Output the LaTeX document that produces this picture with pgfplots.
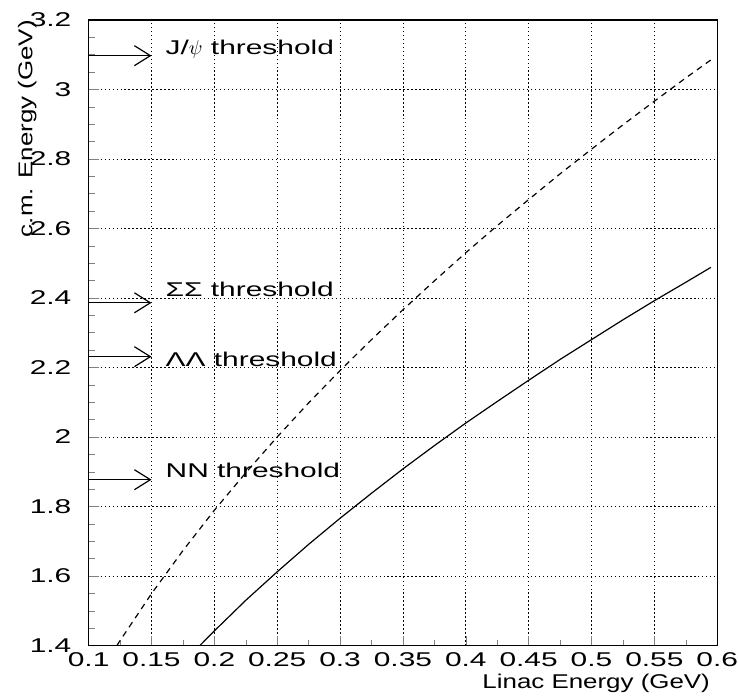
\documentclass[border=0pt]{standalone}
\usepackage{fontspec}
\setmainfont{Liberation Sans}[FakeStretch=1.3]
\newfontfamily\wide{Liberation Sans}[FakeStretch=1.5]
\usepackage{pgfplots}
\pgfplotsset{compat=1.18}
\usetikzlibrary{arrows.meta}

\begin{document}
\fontsize{10}{12}\selectfont
\begin{tikzpicture}
  \begin{axis}[
      scale only axis, clip=false,
      width=315.5pt, height=314pt,
      xmin=0.1, xmax=0.6, ymin=1.4, ymax=3.2,
      xtick={0.1,0.15,0.2,0.25,0.3,0.35,0.4,0.45,0.5,0.55,0.6},
      ytick={1.4,1.6,1.8,2,2.2,2.4,2.6,2.8,3,3.2},
      minor x tick num=1, minor y tick num=3,
      tick pos=left, tick align=inside,
      major tick length=5pt, minor tick length=3pt,
      grid=major, grid style={black, line width=0.4pt, dash pattern=on 0.6pt off 1.4pt},
      axis line style={black, line width=0.7pt},
      /pgf/number format/assume math mode=true,
      tick label style={font=\wide\fontsize{10}{12}\selectfont, inner sep=0pt},
      xticklabel style={yshift=-3.5pt},
      yticklabel style={xshift=-8.5pt},
      xlabel={Linac Energy (GeV)},
      ylabel={c.m. Energy (GeV)},
      label style={inner sep=0pt},
      xlabel style={font=\fontsize{10}{12}\selectfont, at={(axis description cs:0.989,-0.045)}, anchor=north east},
      ylabel style={font=\fontsize{10}{12}\selectfont, at={(axis description cs:-0.0824,1)}, anchor=south east},
    ]
    % collider c.m. energy, 2.6 GeV ring
    \addplot[black, line width=0.6pt] coordinates {
      (0.1885,1.400) (0.2,1.442) (0.225,1.530) (0.25,1.612) (0.275,1.691)
      (0.3,1.766) (0.325,1.838) (0.35,1.908) (0.375,1.975) (0.4,2.040)
      (0.425,2.102) (0.45,2.163) (0.475,2.223) (0.5,2.280) (0.525,2.337)
      (0.55,2.392) (0.575,2.445) (0.595,2.488)
    };
    % 4 GeV ring
    \addplot[black, line width=0.6pt, dash pattern=on 3pt off 2.5pt] coordinates {
      (0.1225,1.400) (0.125,1.414) (0.15,1.549) (0.175,1.673) (0.2,1.789)
      (0.225,1.897) (0.25,2.000) (0.275,2.098) (0.3,2.191) (0.325,2.280)
      (0.35,2.366) (0.375,2.449) (0.4,2.530) (0.425,2.608) (0.45,2.683)
      (0.475,2.757) (0.5,2.828) (0.525,2.898) (0.55,2.966) (0.575,3.033)
      (0.595,3.085)
    };
    % threshold arrows
    \addplot[black, line width=0.6pt, -{Straight Barb[length=8pt,width=10pt]}] coordinates {(0.1,3.097) (0.15,3.097)};
    \addplot[black, line width=0.6pt, -{Straight Barb[length=8pt,width=10pt]}] coordinates {(0.1,2.386) (0.15,2.386)};
    \addplot[black, line width=0.6pt, -{Straight Barb[length=8pt,width=10pt]}] coordinates {(0.1,2.231) (0.15,2.231)};
    \addplot[black, line width=0.6pt, -{Straight Barb[length=8pt,width=10pt]}] coordinates {(0.1,1.877) (0.15,1.877)};
    \begin{scope}[every node/.style={anchor=base west, inner sep=0pt, font=\wide\fontsize{10}{12}\selectfont}]
      \node at (axis cs:0.161,3.100) {J/$\psi$ threshold};
      \node at (axis cs:0.161,2.403) {ΣΣ threshold};
      \node at (axis cs:0.161,2.203) {ΛΛ threshold};
      \node at (axis cs:0.161,1.882) {NN threshold};
    \end{scope}
    % page margins as in the original
    \path (rel axis cs:-0.141,-0.0796) rectangle (rel axis cs:1.0285,1.0318);
  \end{axis}
\end{tikzpicture}
\end{document}
